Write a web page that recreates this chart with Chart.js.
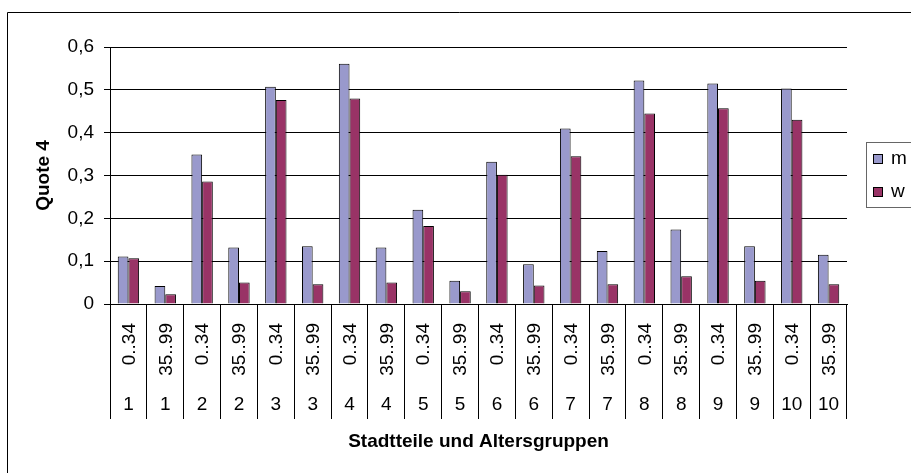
<!DOCTYPE html>
<html>
<head>
<meta charset="utf-8">
<script src="https://cdn.jsdelivr.net/npm/chart.js@4"></script>
<style>
  html, body { margin: 0; padding: 0; background: #fff; }
  #wrap { width: 911px; height: 473px; position: relative; }
</style>
</head>
<body>
<div id="wrap"><canvas id="myChart" width="911" height="473"></canvas></div>
<script>
// Stadtteile und Altersgruppen
let ageGroups = ["0..34", "35..99", "0..34", "35..99", "0..34", "35..99", "0..34", "35..99", "0..34", "35..99",
                 "0..34", "35..99", "0..34", "35..99", "0..34", "35..99", "0..34", "35..99", "0..34", "35..99"];
let districts = ["1", "1", "2", "2", "3", "3", "4", "4", "5", "5",
                 "6", "6", "7", "7", "8", "8", "9", "9", "10", "10"];
let seriesNames = ["m", "w"];
let valuesM = [0.111, 0.042, 0.349, 0.132, 0.507, 0.135, 0.561, 0.132, 0.220, 0.054,
               0.332, 0.093, 0.410, 0.124, 0.522, 0.174, 0.515, 0.135, 0.503, 0.115];
let valuesW = [0.107, 0.023, 0.286, 0.050, 0.476, 0.046, 0.480, 0.050, 0.182, 0.030,
               0.302, 0.043, 0.345, 0.046, 0.445, 0.065, 0.457, 0.054, 0.430, 0.046];
let yTickLabels = ["0", "0,1", "0,2", "0,3", "0,4", "0,5", "0,6"];

const FONT = "'Liberation Sans', Arial, sans-serif";
const ctx = document.getElementById("myChart");

// labels under the axis, the frame and the boxed legend
const excelBits = {
  id: "excelBits",
  afterDraw(chart) {
    const c = chart.ctx;
    const x = chart.scales.x;
    const area = chart.chartArea;
    c.save();

    // outer frame
    c.strokeStyle = "#000";
    c.lineWidth = 1;
    c.beginPath();
    c.moveTo(7.5, 480);
    c.lineTo(7.5, 12.5);
    c.lineTo(920, 12.5);
    c.stroke();

    c.fillStyle = "#000";
    c.font = "19px " + FONT;
    ageGroups.forEach((lab, i) => {
      const px = x.getPixelForValue(i);
      c.save();
      c.translate(px + 1, area.bottom + 19);
      c.rotate(-Math.PI / 2);
      c.textAlign = "right";
      c.textBaseline = "middle";
      c.fillText(lab, 0, 0);
      c.restore();
    });
    c.textAlign = "center";
    c.textBaseline = "middle";
    districts.forEach((lab, i) => {
      c.fillText(lab, x.getPixelForValue(i), area.bottom + 101);
    });

    c.font = "bold 19px " + FONT;
    c.fillText("Stadtteile und Altersgruppen", (area.left + area.right) / 2, area.bottom + 138);

    // legend
    c.strokeStyle = "#666";
    c.strokeRect(866.5, 142.5, 60, 65);
    c.font = "19px " + FONT;
    c.textAlign = "left";
    chart.data.datasets.forEach((ds, i) => {
      const cy = 159 + i * 33;
      c.fillStyle = ds.backgroundColor;
      c.fillRect(873, cy - 5, 10, 10);
      c.strokeStyle = "#000";
      c.strokeRect(873.5, cy - 4.5, 9, 9);
      c.fillStyle = "#000";
      c.fillText(ds.label, 891, cy);
    });
    c.restore();
  }
};

new Chart(ctx, {
  type: "bar",
  data: {
    labels: ageGroups,
    datasets: [
      {
        label: seriesNames[0],
        data: valuesM,
        backgroundColor: "#9999cc",
        borderColor: "#000",
        borderWidth: 1,
      },
      {
        label: seriesNames[1],
        data: valuesW,
        backgroundColor: "#993366",
        borderColor: "#000",
        borderWidth: 1,
      },
    ],
  },
  options: {
    responsive: false,
    animation: false,
    layout: { padding: { top: 47, right: 64, left: 0, bottom: 0 } },
    datasets: { bar: { categoryPercentage: 0.58, barPercentage: 1 } },
    plugins: { legend: { display: false }, tooltip: { enabled: false } },
    scales: {
      x: {
        ticks: { display: false },
        grid: {
          offset: true,
          drawOnChartArea: false,
          drawTicks: true,
          tickLength: 115,
          color: "#000",
        },
        border: { display: true, color: "#000" },
        afterFit(scale) { scale.width = scale.width; scale.height = 169; },
      },
      y: {
        min: 0,
        max: 0.6,
        ticks: {
          stepSize: 0.1,
          padding: 10,
          color: "#000",
          font: { family: FONT, size: 19 },
          callback: (v, i) => yTickLabels[i],
        },
        grid: { color: "#000", tickLength: 6, drawTicks: true },
        border: { display: true, color: "#000" },
        title: {
          display: true,
          text: "Quote 4",
          color: "#000",
          font: { family: FONT, size: 19, weight: "bold" },
          padding: { top: 32, bottom: 0 },
        },
        afterFit(scale) { scale.width = 110; },
      },
    },
  },
  plugins: [excelBits],
});
</script>
</body>
</html>
